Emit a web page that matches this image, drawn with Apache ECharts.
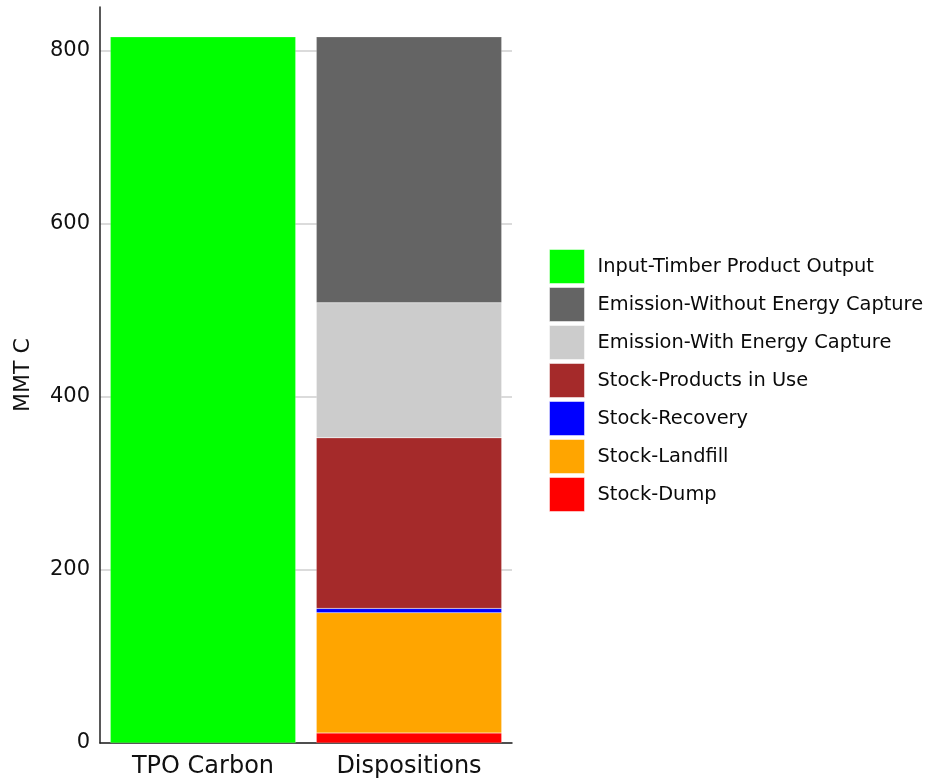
<!DOCTYPE html>
<html>
<head>
<meta charset="utf-8">
<script src="https://cdn.jsdelivr.net/npm/echarts@6/dist/echarts.min.js"></script>
<style>html,body{margin:0;padding:0;background:#fff}#c{width:929px;height:780px}</style>
</head>
<body>
<div id="c"></div>
<script>
const categories = ['TPO Carbon', 'Dispositions'];
const yTicks = [0, 200, 400, 600, 800];
const seriesNames = ['Input-Timber Product Output', 'Emission-Without Energy Capture', 'Emission-With Energy Capture', 'Stock-Products in Use', 'Stock-Recovery', 'Stock-Landfill', 'Stock-Dump'];
const tpoInput = [815.5, '-'];
const stockDump = ['-', 11.6];
const stockLandfill = ['-', 138.8];
const stockRecovery = ['-', 5.0];
const stockProducts = ['-', 197.0];
const emissionWith = ['-', 156.0];
const emissionWithout = ['-', 307.1];
const colors = {
  'Input-Timber Product Output': '#00ff00',
  'Emission-Without Energy Capture': '#646464',
  'Emission-With Energy Capture': '#cccccc',
  'Stock-Products in Use': '#a52a2a',
  'Stock-Recovery': '#0000ff',
  'Stock-Landfill': '#ffa500',
  'Stock-Dump': '#ff0000'
};
const font = '"DejaVu Sans", sans-serif';
function bar(name, data) {
  return {
    name: name, type: 'bar', stack: 'all', data: data,
    barCategoryGap: '10%',
    itemStyle: { color: colors[name], borderColor: 'rgba(255,255,255,0.35)', borderWidth: 0.5 },
    emphasis: { disabled: true }
  };
}
const chart = echarts.init(document.getElementById('c'));
chart.setOption({
  animation: false,
  grid: { left: 100, right: 417, top: 7, bottom: 37 },
  legend: {
    orient: 'vertical', left: 549, top: 249, padding: 0,
    data: seriesNames,
    itemWidth: 35, itemHeight: 34, itemGap: 3,
    icon: 'rect',
    itemStyle: { borderColor: 'rgba(255,255,255,0.5)', borderWidth: 1 },
    textStyle: { fontFamily: font, fontSize: 19.4, lineHeight: 22, color: '#0a0a0a', padding: [0, 0, 0, 8] },
    selectedMode: false
  },
  xAxis: {
    type: 'category', data: categories,
    axisLine: { lineStyle: { color: '#222', width: 1.5 } },
    axisTick: { show: false },
    axisLabel: { fontFamily: font, fontSize: 24, color: '#111', margin: 12 }
  },
  yAxis: {
    type: 'value', min: 0, max: 850, interval: 200,
    name: 'MMT C', nameLocation: 'middle', nameGap: 66,
    nameTextStyle: { fontFamily: font, fontSize: 22, color: '#111' },
    axisLine: { show: true, lineStyle: { color: '#222', width: 1.5 } },
    axisTick: { show: false },
    axisLabel: {
      fontFamily: font, fontSize: 21, color: '#111', margin: 10,
      formatter: function (v) { return yTicks.indexOf(v) >= 0 ? String(v) : ''; }
    },
    splitLine: { show: true, showMaxLine: false, lineStyle: { color: '#cfcfcf', width: 1.5 } }
  },
  series: [
    bar('Input-Timber Product Output', tpoInput),
    bar('Stock-Dump', stockDump),
    bar('Stock-Landfill', stockLandfill),
    bar('Stock-Recovery', stockRecovery),
    bar('Stock-Products in Use', stockProducts),
    bar('Emission-With Energy Capture', emissionWith),
    bar('Emission-Without Energy Capture', emissionWithout)
  ]
});
</script>
</body>
</html>
